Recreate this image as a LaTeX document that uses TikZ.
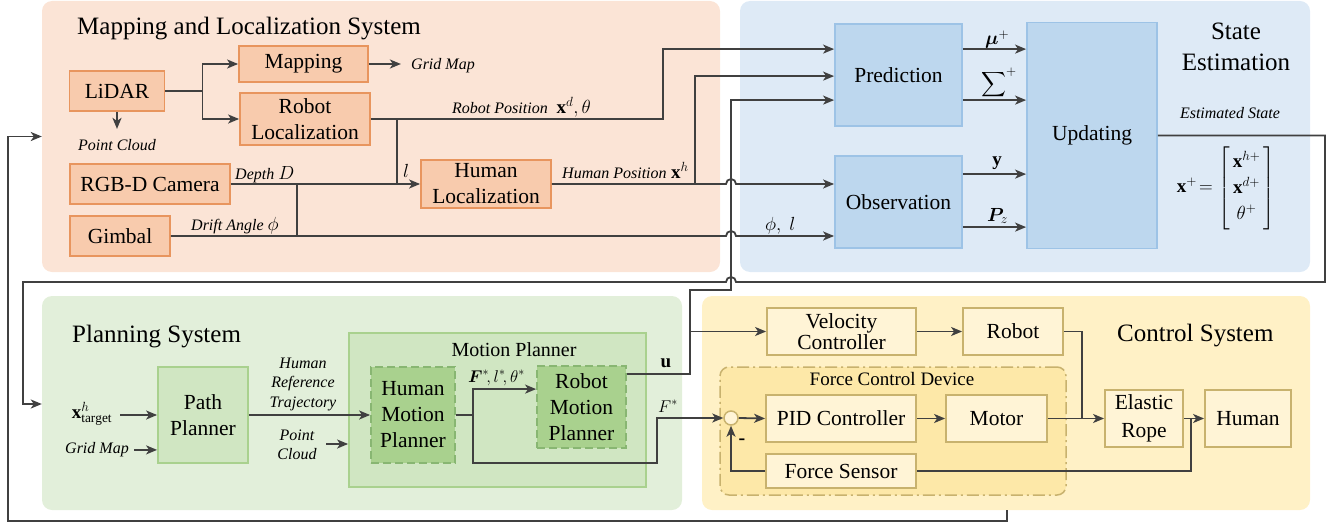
\documentclass[tikz,border=0pt]{standalone}
\usepackage{fix-cm}
\usepackage{amsmath}
\usepackage{bm}
\usepackage{fontspec}
\setmainfont{Liberation Serif}
\usetikzlibrary{arrows.meta,calc}

% panel and block colours
\definecolor{mapbg}{HTML}{FBE4D6}
\definecolor{mapbox}{HTML}{F8CBAD}
\definecolor{mapedge}{HTML}{E8955E}
\definecolor{estbg}{HTML}{DEEAF6}
\definecolor{estbox}{HTML}{BDD7EE}
\definecolor{estedge}{HTML}{9DC3E6}
\definecolor{planbg}{HTML}{E2EFDA}
\definecolor{planbox}{HTML}{D0E6C2}
\definecolor{planedge}{HTML}{A9D18E}
\definecolor{plandark}{HTML}{A9D18E}
\definecolor{plandarkedge}{HTML}{88B672}
\definecolor{ctrlbg}{HTML}{FFF1C6}
\definecolor{ctrlbox}{HTML}{FFF4D6}
\definecolor{ctrledge}{HTML}{C8B26E}
\definecolor{fcdfill}{HTML}{FDE8A8}
\definecolor{wirecol}{HTML}{404040}

\newcommand{\mlab}[1]{{\fontsize{19}{22}\selectfont$#1$}}

\tikzset{
  box/.style={draw, line width=1.8pt, inner sep=0pt, align=center,
              font=\rmfamily\fontsize{21.5}{26}\selectfont},
  mapb/.style={box, fill=mapbox, draw=mapedge},
  estb/.style={box, fill=estbox, draw=estedge},
  planb/.style={box, fill=planbox, draw=planedge},
  hmpbox/.style={box, fill=plandark, draw=plandarkedge, dash pattern=on 8pt off 4pt},
  ctrlb/.style={box, fill=ctrlbox, draw=ctrledge},
  panel/.style={rounded corners=10pt, inner sep=0pt},
  wire/.style={draw=wirecol, line width=1.8pt},
  arr/.style={wire, -{Stealth[length=11pt,width=9pt,inset=3pt]}},
  lab/.style={font=\rmfamily\fontsize{16}{19.5}\selectfont\itshape, inner sep=0pt},
  ttl/.style={font=\rmfamily\fontsize{25}{31}\selectfont, inner sep=0pt},
  mathlab/.style={font=\fontsize{19}{26}\selectfont, inner sep=0pt},
}

\begin{document}
\begin{tikzpicture}[x=1pt,y=-1pt]
\useasboundingbox (0,0) rectangle (1340,527);

% ---------- background panels ----------
\node[panel, fill=mapbg, minimum width=678pt, minimum height=271pt] (mapsys) at (381,136.5) {};
\node[panel, fill=estbg, minimum width=570pt, minimum height=271pt] (estsys) at (1025,136.5) {};
\node[panel, fill=planbg, minimum width=640pt, minimum height=214pt] (plansys) at (362,403) {};
\node[panel, fill=ctrlbg, minimum width=608pt, minimum height=214pt] (ctrlsys) at (1006,403) {};

% ---------- titles ----------
\node[ttl, anchor=base west] (maptitle) at (77,35) {Mapping and Localization System};
\node[ttl, align=center] (esttitle) at (1236,47) {State\\Estimation};
\node[ttl, anchor=base west] (plantitle) at (72,342) {Planning System};
\node[ttl, anchor=base west] (ctrltitle) at (1117,341) {Control System};

% ---------- mapping and localization ----------
\node[mapb, minimum width=95pt, minimum height=40pt] (lidar) at (117,91) {LiDAR};
\node[mapb, minimum width=129pt, minimum height=36pt] (mapping) at (303.5,64) {Mapping};
\node[mapb, minimum width=130pt, minimum height=52pt] (rloc) at (305,119) {Robot\\Localization};
\node[mapb, minimum width=160pt, minimum height=40pt] (cam) at (150,184) {RGB-D Camera};
\node[mapb, minimum width=100pt, minimum height=40pt] (gimbal) at (120,236) {Gimbal};
\node[mapb, minimum width=130pt, minimum height=48pt] (hloc) at (486,184) {Human\\Localization};

% ---------- state estimation ----------
\node[estb, minimum width=127pt, minimum height=102pt] (pred) at (898.5,75) {Prediction};
\node[estb, minimum width=127pt, minimum height=92pt] (obs) at (898.5,202) {Observation};
\node[estb, minimum width=130pt, minimum height=226pt] (upd) at (1092,135.5) {Updating};

% ---------- planning ----------
\node[planb, minimum width=90pt, minimum height=96pt] (path) at (203,415) {Path\\Planner};
\node[draw=planedge, fill=planbox, line width=1.8pt, inner sep=0pt,
      minimum width=297pt, minimum height=154pt] (mp) at (497.5,410) {};
\node[font=\rmfamily\fontsize{20}{24}\selectfont, inner sep=0pt, anchor=base] (mplab) at (514,356) {Motion Planner};
\node[hmpbox, minimum width=84pt, minimum height=96pt] (hmp) at (413,415) {Human\\Motion\\Planner};
\node[hmpbox, minimum width=89pt, minimum height=82pt] (rmp) at (581.5,407) {Robot\\Motion\\Planner};

% ---------- control ----------
\node[draw=ctrledge, fill=fcdfill, line width=1.5pt, rounded corners=9pt,
      dash pattern=on 12pt off 4pt on 2pt off 4pt, inner sep=0pt,
      minimum width=346pt, minimum height=128pt] (fcd) at (893,431) {};
\node[font=\rmfamily\fontsize{19}{22}\selectfont, inner sep=0pt, anchor=base] (fcdlab) at (892,385) {Force Control Device};
\node[ctrlb, minimum width=149pt, minimum height=47pt, font=\rmfamily\fontsize{21.5}{21}\selectfont] (vel) at (841.5,331.5) {Velocity\\Controller};
\node[ctrlb, minimum width=100pt, minimum height=47pt] (robot) at (1013,331.5) {Robot};
\node[circle, draw=ctrledge, fill=ctrlbox, line width=1.5pt, inner sep=0pt, minimum size=14pt] (sum) at (731,418) {};
\node[ctrlb, minimum width=150pt, minimum height=47pt] (pid) at (841,418.5) {PID Controller};
\node[ctrlb, minimum width=101pt, minimum height=47pt] (motor) at (996.5,418.5) {Motor};
\node[ctrlb, minimum width=150pt, minimum height=34pt] (fs) at (841,471) {Force Sensor};
\node[ctrlb, minimum width=78pt, minimum height=57pt, font=\rmfamily\fontsize{21.5}{28}\selectfont] (rope) at (1144,418.5) {Elastic\\Rope};
\node[ctrlb, minimum width=86pt, minimum height=57pt] (human) at (1248,418.5) {Human};

% ---------- junction points ----------
\coordinate (lj) at ($(lidar.east)+(37,0)$);
\coordinate (lj2) at ($(rloc.east)+(26,0)$);
\coordinate (gj) at ($(gimbal.east)+(126,0)$);
\coordinate (hj) at ($(hloc.east)+(143,0)$);
\coordinate (pin1) at ($(pred.north west)+(0,26)$);
\coordinate (pin2) at ($(pred.north west)+(0,53)$);
\coordinate (pin3) at ($(pred.north west)+(0,77)$);
\coordinate (pout1) at ($(pred.north east)+(0,26)$);
\coordinate (pout2) at ($(pred.north east)+(0,77)$);
\coordinate (oin1) at (obs.west |- hloc.east);
\coordinate (oin2) at (obs.west |- gimbal.east);
\coordinate (oout1) at ($(obs.north east)+(0,19)$);
\coordinate (oout2) at ($(obs.north east)+(0,72)$);
\coordinate (ucol) at (690,290);
\coordinate (ucol2) at (731,290);
\coordinate (er) at (1325,282);
\coordinate (el) at (23,282);
\coordinate (estin) at ($(plansys.west)+(0,1)$);
\coordinate (cb) at ($(ctrlsys.south)+(1,0)$);
\coordinate (pcend) at ($(lidar.south)+(0,17)$);
\coordinate (gmend) at ($(mapping.east)+(32,0)$);
\coordinate (hj2) at ($(hmp.east)+(17,0)$);
\coordinate (fcol) at (657,463);
\coordinate (rj) at ($(rope.west)+(-22,0)$);
\coordinate (fbj) at ($(rope.east)+(7,0)$);

% ---------- mapping connectors ----------
\draw[wire] (lidar.east) -- (lj);
\draw[arr] (lj) |- (mapping.west);
\draw[arr] (lj) |- (rloc.west);
\draw[arr] (lidar.south) -- (pcend);
\draw[arr] (mapping.east) -- (gmend);
\draw[arr] (rloc.east) -| ($(pin1)+(-171,0)$) -- (pin1);
\draw[wire] (lj2) -- (lj2 |- hloc.west);
\draw[arr] (cam.east) -- (hloc.west);
\draw[wire] (gj) -- (gj |- cam.east);
\draw[arr] (gimbal.east) -- ($(gimbal.east -| ucol2)+(-5,0)$) arc (180:360:5) -- (oin2);
\draw[arr] (hloc.east) -- ($(hloc.east -| ucol2)+(-5,0)$) arc (180:360:5) -- (oin1);
\draw[arr] (hj) |- (pin2);

% ---------- estimation connectors ----------
\draw[arr] (pout1) -- (pout1 -| upd.west);
\draw[arr] (pout2) -- (pout2 -| upd.west);
\draw[arr] (oout1) -- (oout1 -| upd.west);
\draw[arr] (oout2) -- (oout2 -| upd.west);
\draw[arr] (upd.east) -| (er) -- ($(er -| ucol2)+(5,0)$) arc (0:-180:5) -- (el) |- (estin);

% ---------- planning connectors ----------
\draw[arr] ($(path.west)+(-37,0)$) -- (path.west);
\draw[arr] ($(path.south west)+(-23,-14)$) -- ($(path.south west)+(0,-14)$);
\draw[arr] (path.east) -- (hmp.west);
\draw[arr] ($(mp.west)+(-22,34)$) -- ($(mp.west)+(0,34)$);
\draw[wire] (hmp.east) -- (hj2);
\draw[arr] (hj2) |- ($(rmp.north west)+(0,24)$);
\draw[arr] (hj2) |- (fcol) |- (sum.west);
\draw[arr] ($(rmp.north east)+(0,9)$) -| (ucol) -- (ucol2) |- (pin3);
\draw[arr] (ucol |- vel.west) -- (vel.west);

% ---------- control connectors ----------
\draw[arr] (vel.east) -- (robot.west);
\draw[arr] (sum.east) -- (pid.west);
\draw[arr] (pid.east) -- (motor.west);
\draw[wire] (robot.east) -| (rj);
\draw[arr] (motor.east) -- (rope.west);
\draw[arr] (rope.east) -- (human.west);
\draw[wire] (fbj) |- (fs.east);
\draw[arr] (fs.west) -| (sum.south);
\draw[arr] (cb) |- (8,521) |- (mapsys.west);

% ---------- labels ----------
\node[lab, anchor=base] (pclab) at (117,150) {Point Cloud};
\node[lab, anchor=base west] (gmlab) at (411,70) {Grid Map};
\node[lab, anchor=base west] (rplab) at (452,113) {Robot Position\;\;\mlab{\mathbf{x}^{d},\theta}};
\node[lab, anchor=base west] (hplab) at (562,178) {Human Position\;\mlab{\mathbf{x}^{h}}};
\node[lab, anchor=base west] (dlab) at (235,179) {Depth \mlab{D}};
\node[lab, anchor=base west] (galab) at (191,230) {Drift Angle \mlab{\phi}};
\node[mathlab, anchor=base west] (llab) at (403,177) {$l$};
\node[mathlab, anchor=base west] (pllab) at (765,230) {$\phi,\ l$};
\node[mathlab, anchor=base west] (mulab) at (985,45) {$\bm{\mu}^{+}$};
\node[mathlab] (siglab) at (999,83) {$\displaystyle\sum\nolimits^{+}$};
\node[mathlab, anchor=base] (ylab) at (997,165) {$\mathbf{y}$};
\node[mathlab, anchor=base west] (pzlab) at (987,221) {$\bm{P}_{z}$};
\node[lab, anchor=base] (eslab) at (1230,118) {Estimated State};
\node[mathlab] (xmat) at (1226,188) {$\mathbf{x}^{+}\!=\begin{bmatrix}\,\mathbf{x}^{h+}\,\\ \,\mathbf{x}^{d+}\,\\ \theta^{+}\end{bmatrix}$};

\node[mathlab, anchor=base] (xtlab) at (92,418) {$\mathbf{x}^{h}_{\mathrm{target}}$};
\node[lab, anchor=base west] (gm2lab) at (65,453) {Grid Map};
\node[lab, align=center] (hrtlab) at (303,384) {Human\\Reference\\Trajectory};
\node[lab, align=center] (pc2lab) at (297,445) {Point\\Cloud};
\node[font=\fontsize{17}{20}\selectfont, inner sep=0pt, anchor=base west] (fllab) at (468,382) {$\bm{F}^{*}\!,l^{*}\!,\theta^{*}$};
\node[mathlab, anchor=base] (ulab) at (666,367) {$\mathbf{u}$};
\node[font=\fontsize{17}{20}\selectfont, inner sep=0pt, anchor=base west] (fslab) at (658,412) {$F^{*}$};
\node[font=\fontsize{20}{20}\selectfont\bfseries, inner sep=0pt] (minus) at (742,442) {-};

\end{tikzpicture}
\end{document}
